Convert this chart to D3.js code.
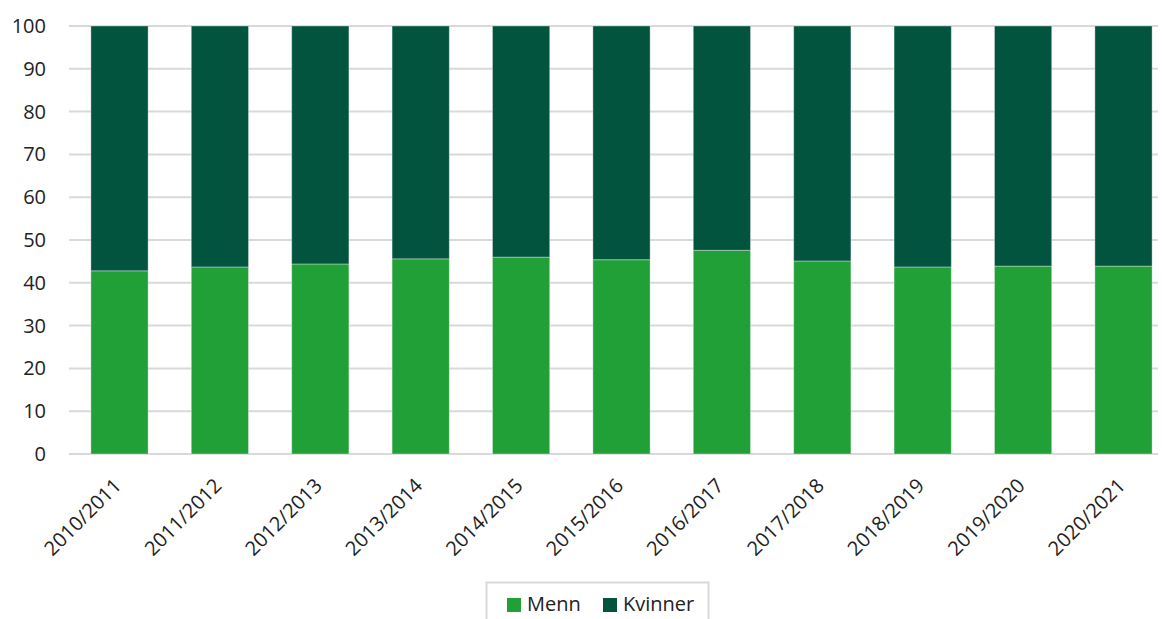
<!DOCTYPE html>
<html><head><meta charset="utf-8">
<script src="https://cdn.jsdelivr.net/npm/d3@7"></script>
<style>body{margin:0;background:#fff;font-family:"Open Sans",sans-serif;}</style>
</head><body>
<svg id="c" width="1162" height="619"></svg>
<script>
const categories = ["2010/2011","2011/2012","2012/2013","2013/2014","2014/2015","2015/2016","2016/2017","2017/2018","2018/2019","2019/2020","2020/2021"];
const menn = [42.8,43.7,44.4,45.6,46.0,45.4,47.6,45.1,43.7,43.9,43.9];
const kvinner = menn.map(v => +(100 - v).toFixed(1));
const seriesNames = ["Menn","Kvinner"];
const yTicks = [0,10,20,30,40,50,60,70,80,90,100];
const colors = {Menn:"#21a038", Kvinner:"#02543f"};

const svg = d3.select("#c");
const x = d3.scaleBand().domain(categories).range([69.3, 1173.7]).paddingInner(0.43).paddingOuter(0.215);
const y = d3.scaleLinear().domain([0,100]).range([454, 26]);

svg.append("g").selectAll("line").data(yTicks).join("line")
  .attr("x1", 69).attr("x2", 1158)
  .attr("y1", d => y(d)).attr("y2", d => y(d))
  .attr("stroke", "#d9d9d9").attr("stroke-width", 2);

const data = categories.map((c,i) => ({cat:c, Menn:menn[i], Kvinner:kvinner[i]}));
const stack = d3.stack().keys(seriesNames)(data);
svg.append("g").selectAll("g").data(stack).join("g")
  .attr("fill", d => colors[d.key])
  .selectAll("rect").data(d => d).join("rect")
  .attr("x", d => x(d.data.cat))
  .attr("width", x.bandwidth())
  .attr("y", d => y(Math.min(d[1],100)))
  .attr("height", d => y(d[0]) - y(Math.min(d[1],100)))
  .attr("stroke", "#ffffff").attr("stroke-opacity", 0.35).attr("stroke-width", 1);

const ya = svg.append("g").attr("transform","translate(46,0)")
  .call(d3.axisLeft(y).tickValues(yTicks).tickSize(0).tickPadding(0));
ya.select(".domain").remove();
ya.selectAll("text").attr("font-family","'Open Sans',sans-serif").attr("font-size",20).attr("fill","#222");

const xa = svg.append("g").attr("transform","translate(0,454)")
  .call(d3.axisBottom(x).tickSize(0).tickPadding(0));
xa.select(".domain").remove();
xa.selectAll("text")
  .attr("font-family","'Open Sans',sans-serif").attr("font-size",20).attr("fill","#222")
  .attr("text-anchor","end")
  .attr("dy", 0)
  .attr("transform","translate(3,33) rotate(-45)");

const lg = svg.append("g");
lg.append("rect").attr("x",486.5).attr("y",582.5).attr("width",222).attr("height",45)
  .attr("fill","none").attr("stroke","#d9d9d9").attr("stroke-width",2);
const items = [{k:"Menn", x:507},{k:"Kvinner", x:603}];
items.forEach(it => {
  lg.append("rect").attr("x",it.x).attr("y",598).attr("width",14).attr("height",14).attr("fill",colors[it.k]);
  lg.append("text").attr("x",it.x+20).attr("y",611).attr("font-family","'Open Sans',sans-serif")
    .attr("font-size",20).attr("fill","#222").text(it.k);
});
</script>
</body></html>
